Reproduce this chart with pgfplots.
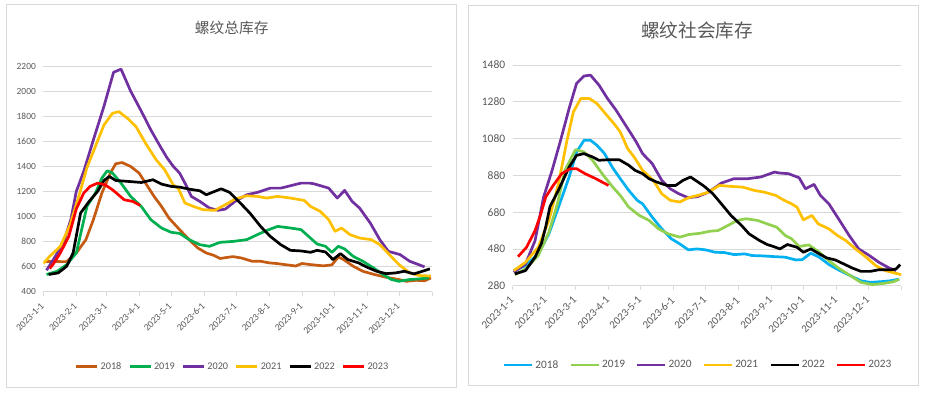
\documentclass[border=0pt]{standalone}
\usepackage{pgfplots}
\pgfplotsset{compat=1.18}
\usepackage{fontspec}
\setmainfont{Carlito}
\newfontfamily\cjk{Noto Sans CJK SC}
\definecolor{txt}{HTML}{595959}
\definecolor{gridc}{HTML}{D9D9D9}
\definecolor{c18}{HTML}{C55A11}
\definecolor{c19}{HTML}{00B050}
\definecolor{c20}{HTML}{7030A0}
\definecolor{c21}{HTML}{FFC000}
\definecolor{c22}{HTML}{000000}
\definecolor{c23}{HTML}{FF0000}
\definecolor{b18}{HTML}{00B0F0}
\definecolor{g19}{HTML}{92D050}
\pgfplotsset{
  mystyle/.style={
    scale only axis, xmin=0, xmax=365,
    axis x line*=bottom, axis y line*=left,
    y axis line style={draw=none},
    x axis line style={gridc, line width=0.8bp},
    ymajorgrids, grid style={gridc, line width=0.8bp},
    xtick={0,31,59,90,120,151,181,212,243,273,304,334,365},
    xticklabels={2023-1-1,2023-2-1,2023-3-1,2023-4-1,2023-5-1,2023-6-1,2023-7-1,2023-8-1,2023-9-1,2023-10-1,2023-11-1,2023-12-1,{}},
    xticklabel style={rotate=45, anchor=east, inner sep=1bp},
    xticklabel shift=8bp,
    tick align=outside, major tick length=4bp,
    xtick style={gridc, line width=0.8bp},
    ytick style={draw=none},
    every axis plot/.append style={line width=2.7bp, line join=round, mark=none},
    tick label style={text=txt},
    /pgf/number format/assume math mode=true,
    /pgf/number format/1000 sep={},
    legend style={draw=none, fill=none, text=txt, legend columns=6},
  }
}
\begin{document}
\begin{tikzpicture}[x=1bp,y=1bp]
\useasboundingbox[fill=white] (0,0) rectangle (927,392);
\draw[gridc, line width=0.8bp] (6,5) rectangle (456,387.3);
\draw[gridc, line width=0.8bp] (468.7,7) rectangle (918,387);
\node[text=txt, font=\cjk\fontsize{14.7bp}{16bp}\selectfont] at (231.7,364.5) {螺纹总库存};
\node[text=txt, font=\cjk\fontsize{18.6bp}{20bp}\selectfont] at (697,361.5) {螺纹社会库存};

% ---------------- left ----------------
\begin{axis}[mystyle,
  at={(43.3bp,100.3bp)}, anchor=south west,
  width=388.7bp, height=225.7bp,
  ymin=400, ymax=2200, ytick={400,600,...,2200},
  yticklabel style={font=\fontsize{9.4bp}{10bp}\selectfont},
  xticklabel style={font=\fontsize{9.6bp}{10bp}\selectfont},
  legend style={at={(0.487,-0.332)}, anchor=center, font=\fontsize{10.2bp}{11bp}\selectfont,
    /tikz/every even column/.append style={column sep=5bp}},
  legend image code/.code={\draw[#1,line width=2.7bp] (0bp,0bp) -- (21bp,0bp);},
]
\addplot[c18] coordinates {(2,640)(9,642)(16,640)(22,640)(31,709)(40,815)(47,974)(55,1187)(63,1346)(68,1420)(74,1430)(82,1399)(90,1346)(96,1266)(104,1160)(111,1080)(118,987)(128,895)(137,815)(145,749)(153,709)(160,690)(166,665)(178,680)(186,669)(196,643)(204,643)(212,630)(220,624)(227,616)(237,605)(243,625)(251,616)(263,606)(271,614)(277,677)(282,656)(291,603)(300,563)(311,537)(322,515)(334,497)(341,483)(350,491)(358,487)(364,510)};
\addlegendentry{2018}
\addplot[c19] coordinates {(3,537)(13,563)(22,616)(31,709)(36,895)(41,1080)(49,1187)(55,1306)(60,1364)(65,1346)(73,1266)(82,1160)(92,1080)(101,974)(111,908)(120,874)(128,865)(137,815)(147,775)(156,762)(166,794)(178,801)(191,815)(201,855)(210,889)(220,921)(232,908)(242,895)(249,842)(257,781)(265,762)(271,714)(277,762)(283,741)(291,682)(300,643)(310,590)(319,537)(327,497)(334,483)(344,497)(353,502)(362,510)};
\addlegendentry{2019}
\addplot[c20] coordinates {(3,571)(9,650)(19,790)(26,980)(31,1200)(38,1360)(47,1610)(57,1880)(66,2150)(73,2175)(82,2000)(92,1840)(101,1690)(109,1570)(116,1470)(122,1400)(128,1346)(134,1250)(139,1160)(147,1120)(156,1067)(164,1049)(171,1059)(180,1120)(191,1173)(201,1192)(213,1226)(223,1226)(232,1245)(242,1266)(250,1266)(254,1261)(268,1226)(276,1147)(283,1208)(290,1120)(297,1067)(307,948)(316,815)(324,722)(335,696)(344,643)(358,598)};
\addlegendentry{2020}
\addplot[c21] coordinates {(0,625)(6,682)(16,762)(25,930)(33,1150)(41,1390)(49,1560)(57,1730)(65,1823)(71,1836)(79,1783)(87,1717)(96,1584)(106,1452)(114,1372)(122,1253)(127,1220)(133,1107)(141,1080)(150,1054)(161,1049)(171,1094)(180,1139)(191,1165)(201,1160)(210,1147)(220,1160)(232,1147)(245,1128)(251,1080)(260,1041)(268,974)(274,881)(280,908)(288,855)(297,828)(308,815)(316,775)(325,696)(334,616)(344,550)(353,529)(364,525)};
\addlegendentry{2021}
\addplot[c22] coordinates {(5,537)(14,550)(22,603)(28,709)(35,1027)(43,1120)(51,1200)(57,1287)(62,1319)(68,1287)(79,1280)(92,1271)(103,1293)(111,1258)(120,1240)(128,1234)(137,1218)(147,1205)(153,1173)(161,1200)(167,1221)(175,1192)(185,1107)(194,1027)(204,921)(213,842)(223,775)(232,730)(242,725)(251,714)(257,730)(265,717)(272,656)(279,704)(286,656)(296,630)(304,595)(313,563)(322,544)(331,550)(339,563)(348,542)(356,563)(363,582)};
\addlegendentry{2022}
\addplot[c23] coordinates {(6,585)(9,616)(16,709)(24,842)(31,1060)(38,1187)(44,1240)(51,1266)(58,1253)(65,1213)(76,1133)(84,1120)(91,1088)};
\addlegendentry{2023}
\end{axis}

% ---------------- right ----------------
\begin{axis}[mystyle,
  at={(512.7bp,106.3bp)}, anchor=south west,
  width=388.6bp, height=220.7bp,
  ymin=280, ymax=1480, ytick={280,480,...,1480},
  yticklabel style={font=\fontsize{11.5bp}{12bp}\selectfont},
  xticklabel style={font=\fontsize{11bp}{12bp}\selectfont},
  legend style={at={(0.477,-0.359)}, anchor=center, font=\fontsize{11.3bp}{12bp}\selectfont,
    /tikz/every even column/.append style={column sep=9bp}},
  legend image code/.code={\draw[#1,line width=2.7bp] (0bp,0bp) -- (28bp,0bp);},
]
\addplot[b18] coordinates {(1,362)(12,389)(24,453)(34,562)(43,707)(53,871)(60,1007)(67,1071)(73,1071)(79,1044)(86,1000)(94,920)(101,862)(109,798)(117,744)(122,725)(131,653)(140,589)(149,535)(157,507)(165,475)(173,480)(181,475)(190,462)(199,460)(208,449)(218,453)(225,444)(235,442)(246,438)(256,435)(266,420)(272,422)(280,457)(288,435)(297,395)(306,366)(317,335)(327,307)(336,298)(346,302)(355,307)(363,316)};
\addlegendentry{2018}
\addplot[g19] coordinates {(2,340)(12,371)(24,444)(34,571)(42,725)(49,907)(59,1020)(67,1007)(75,962)(84,889)(94,816)(101,771)(109,707)(119,662)(128,635)(137,589)(146,562)(157,544)(165,558)(176,565)(185,576)(193,580)(202,607)(211,635)(219,644)(230,635)(239,616)(248,598)(256,553)(262,535)(269,493)(278,502)(288,462)(297,416)(306,376)(317,335)(327,298)(338,286)(349,293)(358,302)(363,316)};
\addlegendentry{2019}
\addplot[c20] coordinates {(1,353)(12,398)(21,525)(29,762)(37,907)(45,1071)(53,1244)(60,1380)(67,1420)(73,1425)(81,1371)(89,1298)(97,1235)(106,1153)(116,1062)(122,998)(131,944)(140,853)(148,807)(156,780)(165,758)(174,765)(184,789)(196,838)(208,862)(221,862)(233,871)(246,898)(250,893)(259,889)(269,867)(275,807)(283,831)(289,771)(297,725)(306,644)(316,553)(325,480)(335,444)(344,407)(354,375)(360,362)};
\addlegendentry{2020}
\addplot[c21] coordinates {(1,362)(12,407)(24,489)(34,635)(43,835)(51,1071)(57,1225)(64,1298)(72,1298)(79,1271)(87,1216)(95,1162)(101,1116)(108,1025)(114,980)(122,907)(132,853)(140,780)(148,744)(157,735)(165,758)(174,771)(184,789)(194,825)(205,820)(216,816)(227,798)(236,789)(247,771)(255,744)(262,725)(267,707)(273,638)(281,662)(287,616)(297,589)(305,553)(313,525)(322,480)(332,435)(341,389)(350,362)(360,347)(365,340)};
\addlegendentry{2021}
\addplot[c22] coordinates {(2,344)(12,362)(21,435)(27,510)(31,600)(35,710)(43,800)(53,925)(60,989)(67,998)(75,980)(81,962)(90,965)(100,965)(109,935)(115,907)(122,889)(128,862)(135,844)(145,825)(153,825)(160,853)(167,871)(174,844)(180,820)(188,780)(196,725)(205,662)(215,607)(222,562)(232,525)(239,504)(245,493)(251,480)(258,504)(267,489)(273,462)(280,480)(288,453)(295,431)(303,420)(311,398)(319,376)(327,358)(336,358)(344,367)(355,366)(360,371)(364,395)};
\addlegendentry{2022}
\addplot[c23] coordinates {(5,438)(13,489)(21,580)(26,662)(31,762)(38,825)(46,889)(54,916)(60,916)(68,889)(78,862)(90,825)};
\addlegendentry{2023}
\end{axis}
\end{tikzpicture}
\end{document}
